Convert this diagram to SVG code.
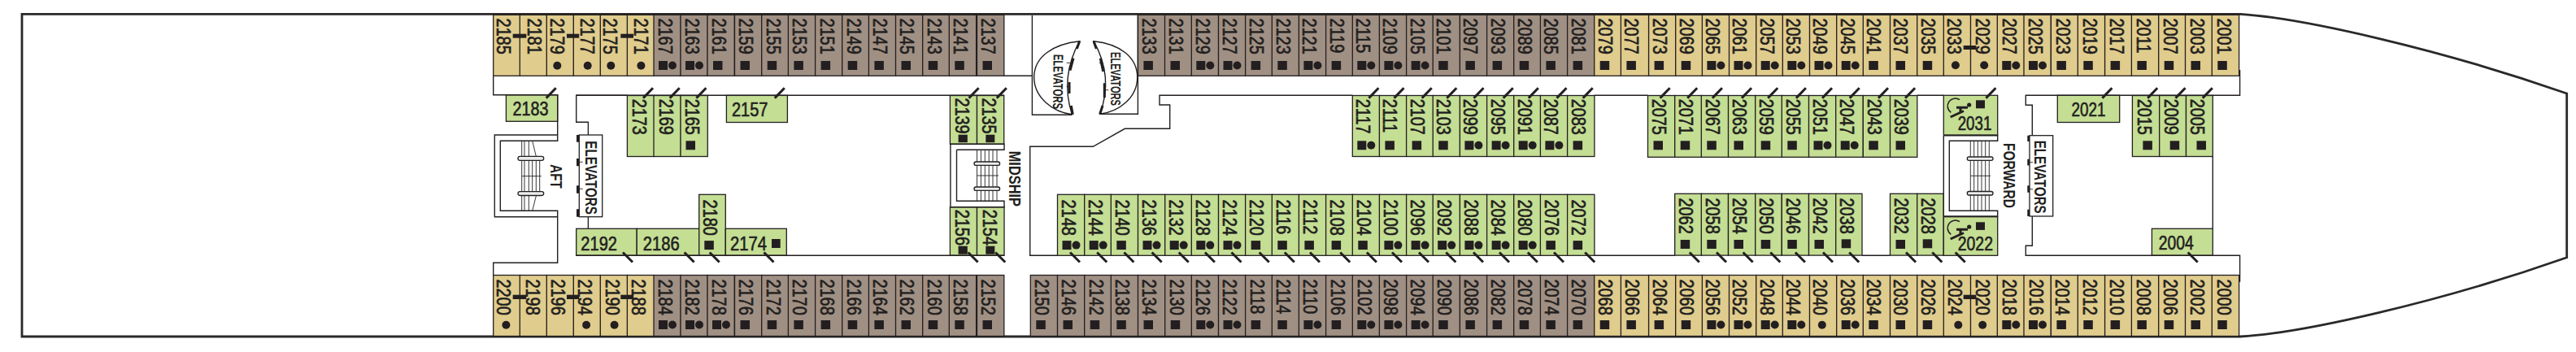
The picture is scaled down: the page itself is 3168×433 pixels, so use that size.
<svg xmlns="http://www.w3.org/2000/svg" width="3168" height="433" viewBox="0 0 3168 433">
<style>
text{font-family:"Liberation Sans",Arial,sans-serif;fill:#231f20}
.v{font-size:24px;stroke:#231f20;stroke-width:.7;transform:rotate(90deg) scale(.83,1)}
.h{font-size:23px;stroke:#231f20;stroke-width:.6}
.b{font-size:21px;font-weight:700}
.t,.r,.g{stroke:#231f20;stroke-width:1.3}
.t{fill:#e0cc8d}.r{fill:#a09084}.g{fill:#c4de94}
.w{fill:none;stroke:#231f20;stroke-width:1.4}
.s{fill:none;stroke:#231f20;stroke-width:.9}
.band{fill:#ececec;stroke:#231f20;stroke-width:1.3}
.m{fill:#231f20}
.d{stroke:#231f20;stroke-width:3;fill:none}
.th{fill:none;stroke:#231f20;stroke-width:3}
</style>
<defs>
<rect id="T" class="t" width="33.3" height="75"/>
<rect id="B" class="r" width="33.3" height="75"/>
<rect id="G" class="g" width="33.3" height="75"/>
<rect id="S" class="m" x="7" width="11.5" height="11"/>
<g id="D"><rect class="m" x="6" width="11" height="11"/><circle class="m" cx="23" cy="5.5" r="5"/></g>
<circle id="O" class="m" cx="13" cy="5.5" r="5"/>
<path id="u" class="d" d="M-12 12.3L0 0"/>
<path id="l" class="d" d="M-12 -12L0 0"/>
<g id="wc"><path class="th" style="stroke-width:1.6" d="M2410 122.7A8.7 8.7 0 1 0 2399.3 138.3"/><path class="th" d="M2406 132.3H2420M2411 132V138"/><path class="th" d="M2398.7 144L2415 136.5"/><circle class="m" cx="2421.7" cy="129" r="2.6"/></g>
</defs>
<rect width="3168" height="433" fill="#fff"/>
<path id="hull" d="M27 17.3H2755C2830 22 3000 60 3156.7 115V316.7C3000 372 2830 410 2755 414H27Z" fill="none" stroke="#2b2829" stroke-width="2.8"/>

<g id="cabins-top" >
<g id="c2185" transform="translate(606.7 18.3)"><use href="#T"/><text class="v" x="5" y="-4">2185</text></g>
<g id="c2181" transform="translate(639.3 18.3)"><use href="#T"/><text class="v" x="5" y="-9.4">2181</text></g>
<g id="c2179" transform="translate(672.3 18.3)"><use href="#T"/><text class="v" x="5" y="-4.4">2179</text><use href="#O" y="56.9"/></g>
<g id="c2177" transform="translate(705.3 18.3)"><use href="#T"/><text class="v" x="5" y="-9">2177</text><use href="#O" x="4.4" y="56.9"/></g>
<g id="c2175" transform="translate(738.3 18.3)"><use href="#T"/><text class="v" x="5" y="-4">2175</text><use href="#O" y="56.9"/></g>
<g id="c2171" transform="translate(771.4 18.3)"><use href="#T"/><text class="v" x="5" y="-8.5">2171</text><use href="#O" x="4" y="56.9"/></g>
<g id="c2167" transform="translate(804 18.3)"><use href="#B"/><text class="v" x="5" y="-6">2167</text><use href="#D" y="56.7"/></g>
<g id="c2163" transform="translate(837 18.3)"><use href="#B"/><text class="v" x="5" y="-6">2163</text><use href="#D" y="56.7"/></g>
<g id="c2161" transform="translate(870 18.3)"><use href="#B"/><text class="v" x="5" y="-6">2161</text><use href="#S" y="56.7"/></g>
<g id="c2159" transform="translate(903.5 18.3)"><use href="#B"/><text class="v" x="5" y="-6">2159</text><use href="#S" y="56.7"/></g>
<g id="c2155" transform="translate(936.7 18.3)"><use href="#B"/><text class="v" x="5" y="-6">2155</text><use href="#S" y="56.7"/></g>
<g id="c2153" transform="translate(969.4 18.3)"><use href="#B"/><text class="v" x="5" y="-6">2153</text><use href="#S" y="56.7"/></g>
<g id="c2151" transform="translate(1002.6 18.3)"><use href="#B"/><text class="v" x="5" y="-6">2151</text><use href="#S" y="56.7"/></g>
<g id="c2149" transform="translate(1035.7 18.3)"><use href="#B"/><text class="v" x="5" y="-6">2149</text><use href="#S" y="56.7"/></g>
<g id="c2147" transform="translate(1068.4 18.3)"><use href="#B"/><text class="v" x="5" y="-6">2147</text><use href="#S" y="56.7"/></g>
<g id="c2145" transform="translate(1101.5 18.3)"><use href="#B"/><text class="v" x="5" y="-6">2145</text><use href="#S" y="56.7"/></g>
<g id="c2143" transform="translate(1134.7 18.3)"><use href="#B"/><text class="v" x="5" y="-6">2143</text><use href="#S" y="56.7"/></g>
<g id="c2141" transform="translate(1167.3 18.3)"><use href="#B"/><text class="v" x="5" y="-6">2141</text><use href="#S" y="56.7"/></g>
<g id="c2137" transform="translate(1201.5 18.3)"><use href="#B"/><text class="v" x="5" y="-6">2137</text><use href="#S" y="56.7"/></g>
<g id="c2133" transform="translate(1399.4 18.3)"><use href="#B"/><text class="v" x="5" y="-5.5">2133</text><use href="#S" y="56.7"/></g>
<g id="c2131" transform="translate(1432.5 18.3)"><use href="#B"/><text class="v" x="5" y="-5.5">2131</text><use href="#S" y="56.7"/></g>
<g id="c2129" transform="translate(1465.3 18.3)"><use href="#B"/><text class="v" x="5" y="-5.5">2129</text><use href="#D" y="56.7"/></g>
<g id="c2127" transform="translate(1498.5 18.3)"><use href="#B"/><text class="v" x="5" y="-5.5">2127</text><use href="#D" y="56.7"/></g>
<g id="c2125" transform="translate(1531.6 18.3)"><use href="#B"/><text class="v" x="5" y="-5.5">2125</text><use href="#S" y="56.7"/></g>
<g id="c2123" transform="translate(1564.3 18.3)"><use href="#B"/><text class="v" x="5" y="-5.5">2123</text><use href="#S" y="56.7"/></g>
<g id="c2121" transform="translate(1597.4 18.3)"><use href="#B"/><text class="v" x="5" y="-5">2121</text><use href="#D" y="56.7"/></g>
<g id="c2119" transform="translate(1630.6 18.3)"><use href="#B"/><text class="v" x="5" y="-5">2119</text><use href="#S" y="56.7"/></g>
<g id="c2115" transform="translate(1663.3 18.3)"><use href="#B"/><text class="v" x="5" y="-5">2115</text><use href="#D" y="56.7"/></g>
<g id="c2109" transform="translate(1696.4 18.3)"><use href="#B"/><text class="v" x="5" y="-5">2109</text><use href="#D" y="56.7"/></g>
<g id="c2105" transform="translate(1729.6 18.3)"><use href="#B"/><text class="v" x="5" y="-5">2105</text><use href="#D" y="56.7"/></g>
<g id="c2101" transform="translate(1762.2 18.3)"><use href="#B"/><text class="v" x="5" y="-5">2101</text><use href="#S" y="56.7"/></g>
<g id="c2097" transform="translate(1795.4 18.3)"><use href="#B"/><text class="v" x="5" y="-5">2097</text><use href="#S" y="56.7"/></g>
<g id="c2093" transform="translate(1828.6 18.3)"><use href="#B"/><text class="v" x="5" y="-5">2093</text><use href="#S" y="56.7"/></g>
<g id="c2089" transform="translate(1861.7 18.3)"><use href="#B"/><text class="v" x="5" y="-5">2089</text><use href="#S" y="56.7"/></g>
<g id="c2085" transform="translate(1894.4 18.3)"><use href="#B"/><text class="v" x="5" y="-5">2085</text><use href="#S" y="56.7"/></g>
<g id="c2081" transform="translate(1927.6 18.3)"><use href="#B"/><text class="v" x="5" y="-5">2081</text><use href="#S" y="56.7"/></g>
<g id="c2079" transform="translate(1960.7 18.3)"><use href="#T"/><text class="v" x="5" y="-5">2079</text><use href="#S" y="56.7"/></g>
<g id="c2077" transform="translate(1993.4 18.3)"><rect class="t" width="34.2" height="75"/><text class="v" x="5" y="-5">2077</text><use href="#S" y="56.7"/></g>
<g id="c2073" transform="translate(2027.6 18.3)"><use href="#T"/><text class="v" x="5" y="-5">2073</text><use href="#S" y="56.7"/></g>
<g id="c2069" transform="translate(2060.7 18.3)"><use href="#T"/><text class="v" x="5" y="-5">2069</text><use href="#S" y="56.7"/></g>
<g id="c2065" transform="translate(2093.4 18.3)"><use href="#T"/><text class="v" x="5" y="-5">2065</text><use href="#D" y="56.7"/></g>
<g id="c2061" transform="translate(2126.5 18.3)"><use href="#T"/><text class="v" x="5" y="-5">2061</text><use href="#D" y="56.7"/></g>
<g id="c2057" transform="translate(2159.7 18.3)"><use href="#T"/><text class="v" x="5" y="-5">2057</text><use href="#D" y="56.7"/></g>
<g id="c2053" transform="translate(2192.3 18.3)"><use href="#T"/><text class="v" x="5" y="-5">2053</text><use href="#D" y="56.7"/></g>
<g id="c2049" transform="translate(2225.5 18.3)"><use href="#T"/><text class="v" x="5" y="-5">2049</text><use href="#D" y="56.7"/></g>
<g id="c2045" transform="translate(2258.7 18.3)"><use href="#T"/><text class="v" x="5" y="-5">2045</text><use href="#D" y="56.7"/></g>
<g id="c2041" transform="translate(2291.3 18.3)"><use href="#T"/><text class="v" x="5" y="-5">2041</text><use href="#S" y="56.7"/></g>
<g id="c2037" transform="translate(2324.5 18.3)"><use href="#T"/><text class="v" x="5" y="-5">2037</text><use href="#S" y="56.7"/></g>
<g id="c2035" transform="translate(2357.7 18.3)"><use href="#T"/><text class="v" x="5" y="-5">2035</text><use href="#S" y="56.7"/></g>
<g id="c2033" transform="translate(2390.3 18.3)"><use href="#T"/><text class="v" x="5" y="-5">2033</text><use href="#O" x="1.6" y="56.5"/></g>
<g id="c2029" transform="translate(2423.5 18.3)"><use href="#T"/><text class="v" x="5" y="-6.8">2029</text><use href="#O" x="3.7" y="56.5"/></g>
<g id="c2027" transform="translate(2456.3 18.3)"><use href="#T"/><text class="v" x="5" y="-6.5">2027</text><use href="#D" y="56.7"/></g>
<g id="c2025" transform="translate(2489 18.3)"><use href="#T"/><text class="v" x="5" y="-6.5">2025</text><use href="#D" y="56.7"/></g>
<g id="c2023" transform="translate(2522.4 18.3)"><use href="#T"/><text class="v" x="5" y="-6.5">2023</text><use href="#S" y="56.7"/></g>
<g id="c2019" transform="translate(2555.3 18.3)"><use href="#T"/><text class="v" x="5" y="-6.5">2019</text><use href="#S" y="56.7"/></g>
<g id="c2017" transform="translate(2588.6 18.3)"><use href="#T"/><text class="v" x="5" y="-6.5">2017</text><use href="#S" y="56.7"/></g>
<g id="c2011" transform="translate(2621.4 18.3)"><use href="#T"/><text class="v" x="5" y="-6.5">2011</text><use href="#S" y="56.7"/></g>
<g id="c2007" transform="translate(2654.7 18.3)"><use href="#T"/><text class="v" x="5" y="-6.5">2007</text><use href="#S" y="56.7"/></g>
<g id="c2003" transform="translate(2687.5 18.3)"><use href="#T"/><text class="v" x="5" y="-6.5">2003</text><use href="#S" y="56.7"/></g>
<g id="c2001" transform="translate(2720.3 18.3)"><use href="#T"/><text class="v" x="5" y="-6.5">2001</text><use href="#S" y="56.7"/></g>
</g>

<g id="cabins-bottom">
<g id="c2200" transform="translate(606.7 338.5)"><use href="#T"/><text class="v" x="6" y="-4">2200</text><use href="#O" x="2.7" y="55.7"/></g>
<g id="c2198" transform="translate(639.3 338.5)"><use href="#T"/><text class="v" x="6" y="-7.4">2198</text></g>
<g id="c2196" transform="translate(672.3 338.5)"><use href="#T"/><text class="v" x="6" y="-6">2196</text></g>
<g id="c2194" transform="translate(705.3 338.5)"><use href="#T"/><text class="v" x="6" y="-5.6">2194</text><use href="#O" x="2.8" y="55.7"/></g>
<g id="c2190" transform="translate(738.3 338.5)"><use href="#T"/><text class="v" x="6" y="-6.6">2190</text><use href="#O" x="4.3" y="55.7"/></g>
<g id="c2188" transform="translate(771.4 338.5)"><use href="#T"/><text class="v" x="6" y="-6">2188</text></g>
<g id="c2184" transform="translate(804 338.5)"><use href="#B"/><text class="v" x="6" y="-6">2184</text><use href="#D" y="55.5"/></g>
<g id="c2182" transform="translate(837 338.5)"><use href="#B"/><text class="v" x="6" y="-6">2182</text><use href="#D" y="55.5"/></g>
<g id="c2178" transform="translate(870 338.5)"><use href="#B"/><text class="v" x="6" y="-6">2178</text><use href="#D" y="55.5"/></g>
<g id="c2176" transform="translate(903.5 338.5)"><use href="#B"/><text class="v" x="6" y="-6">2176</text><use href="#S" y="55.5"/></g>
<g id="c2172" transform="translate(936.7 338.5)"><use href="#B"/><text class="v" x="6" y="-6">2172</text><use href="#S" y="55.5"/></g>
<g id="c2170" transform="translate(969.4 338.5)"><use href="#B"/><text class="v" x="6" y="-6">2170</text><use href="#S" y="55.5"/></g>
<g id="c2168" transform="translate(1002.6 338.5)"><use href="#B"/><text class="v" x="6" y="-6">2168</text><use href="#S" y="55.5"/></g>
<g id="c2166" transform="translate(1035.7 338.5)"><use href="#B"/><text class="v" x="6" y="-6">2166</text><use href="#S" y="55.5"/></g>
<g id="c2164" transform="translate(1068.4 338.5)"><use href="#B"/><text class="v" x="6" y="-6">2164</text><use href="#S" y="55.5"/></g>
<g id="c2162" transform="translate(1101.5 338.5)"><use href="#B"/><text class="v" x="6" y="-6">2162</text><use href="#S" y="55.5"/></g>
<g id="c2160" transform="translate(1134.7 338.5)"><use href="#B"/><text class="v" x="6" y="-6">2160</text><use href="#S" y="55.5"/></g>
<g id="c2158" transform="translate(1167.3 338.5)"><use href="#B"/><text class="v" x="6" y="-6">2158</text><use href="#S" y="55.5"/></g>
<g id="c2152" transform="translate(1201.5 338.5)"><use href="#B"/><text class="v" x="6" y="-6">2152</text><use href="#S" y="55.5"/></g>
<g id="c2150" transform="translate(1267.3 338.5)"><use href="#B"/><text class="v" x="6" y="-6">2150</text><use href="#S" y="55.5"/></g>
<g id="c2146" transform="translate(1300.5 338.5)"><use href="#B"/><text class="v" x="6" y="-6">2146</text><use href="#S" y="55.5"/></g>
<g id="c2142" transform="translate(1333.7 338.5)"><use href="#B"/><text class="v" x="6" y="-6">2142</text><use href="#S" y="55.5"/></g>
<g id="c2138" transform="translate(1366.3 338.5)"><use href="#B"/><text class="v" x="6" y="-6">2138</text><use href="#S" y="55.5"/></g>
<g id="c2134" transform="translate(1399.5 338.5)"><use href="#B"/><text class="v" x="6" y="-6">2134</text><use href="#S" y="55.5"/></g>
<g id="c2130" transform="translate(1432.7 338.5)"><use href="#B"/><text class="v" x="6" y="-6">2130</text><use href="#S" y="55.5"/></g>
<g id="c2126" transform="translate(1465.3 338.5)"><use href="#B"/><text class="v" x="6" y="-6">2126</text><use href="#D" y="55.5"/></g>
<g id="c2122" transform="translate(1498.5 338.5)"><use href="#B"/><text class="v" x="6" y="-6">2122</text><use href="#D" y="55.5"/></g>
<g id="c2118" transform="translate(1531.6 338.5)"><use href="#B"/><text class="v" x="6" y="-6">2118</text><use href="#S" y="55.5"/></g>
<g id="c2114" transform="translate(1564.3 338.5)"><use href="#B"/><text class="v" x="6" y="-6">2114</text><use href="#S" y="55.5"/></g>
<g id="c2110" transform="translate(1597.4 338.5)"><use href="#B"/><text class="v" x="6" y="-5.5">2110</text><use href="#D" y="55.5"/></g>
<g id="c2106" transform="translate(1630.6 338.5)"><use href="#B"/><text class="v" x="6" y="-6">2106</text><use href="#S" y="55.5"/></g>
<g id="c2102" transform="translate(1663.3 338.5)"><use href="#B"/><text class="v" x="6" y="-6.5">2102</text><use href="#D" y="55.5"/></g>
<g id="c2098" transform="translate(1696.4 338.5)"><use href="#B"/><text class="v" x="6" y="-5.5">2098</text><use href="#D" y="55.5"/></g>
<g id="c2094" transform="translate(1729.6 338.5)"><use href="#B"/><text class="v" x="6" y="-5.5">2094</text><use href="#D" y="55.5"/></g>
<g id="c2090" transform="translate(1762.2 338.5)"><use href="#B"/><text class="v" x="6" y="-5.5">2090</text><use href="#S" y="55.5"/></g>
<g id="c2086" transform="translate(1795.4 338.5)"><use href="#B"/><text class="v" x="6" y="-5.5">2086</text><use href="#S" y="55.5"/></g>
<g id="c2082" transform="translate(1828.6 338.5)"><use href="#B"/><text class="v" x="6" y="-5.5">2082</text><use href="#S" y="55.5"/></g>
<g id="c2078" transform="translate(1861.7 338.5)"><use href="#B"/><text class="v" x="6" y="-5.5">2078</text><use href="#S" y="55.5"/></g>
<g id="c2074" transform="translate(1894.4 338.5)"><use href="#B"/><text class="v" x="6" y="-5.5">2074</text><use href="#S" y="55.5"/></g>
<g id="c2070" transform="translate(1927.6 338.5)"><use href="#B"/><text class="v" x="6" y="-5.5">2070</text><use href="#S" y="55.5"/></g>
<g id="c2068" transform="translate(1960.7 338.5)"><use href="#T"/><text class="v" x="6" y="-5.5">2068</text><use href="#S" y="55.5"/></g>
<g id="c2066" transform="translate(1993.4 338.5)"><rect class="t" width="34.2" height="75"/><text class="v" x="6" y="-5.5">2066</text><use href="#S" y="55.5"/></g>
<g id="c2064" transform="translate(2027.6 338.5)"><use href="#T"/><text class="v" x="6" y="-5">2064</text><use href="#S" y="55.5"/></g>
<g id="c2060" transform="translate(2060.7 338.5)"><use href="#T"/><text class="v" x="6" y="-5">2060</text><use href="#S" y="55.5"/></g>
<g id="c2056" transform="translate(2093.4 338.5)"><use href="#T"/><text class="v" x="6" y="-5">2056</text><use href="#D" y="55.5"/></g>
<g id="c2052" transform="translate(2126.5 338.5)"><use href="#T"/><text class="v" x="6" y="-5">2052</text><use href="#D" y="55.5"/></g>
<g id="c2048" transform="translate(2159.7 338.5)"><use href="#T"/><text class="v" x="6" y="-5">2048</text><use href="#D" y="55.5"/></g>
<g id="c2044" transform="translate(2192.3 338.5)"><use href="#T"/><text class="v" x="6" y="-5">2044</text><use href="#D" y="55.5"/></g>
<g id="c2040" transform="translate(2225.5 338.5)"><use href="#T"/><text class="v" x="6" y="-5">2040</text><use href="#O" x="2.3" y="55.7"/></g>
<g id="c2036" transform="translate(2258.7 338.5)"><use href="#T"/><text class="v" x="6" y="-5">2036</text><use href="#D" y="55.5"/></g>
<g id="c2034" transform="translate(2291.3 338.5)"><use href="#T"/><text class="v" x="6" y="-5">2034</text><use href="#S" y="55.5"/></g>
<g id="c2030" transform="translate(2324.5 338.5)"><use href="#T"/><text class="v" x="6" y="-5">2030</text><use href="#S" y="55.5"/></g>
<g id="c2026" transform="translate(2357.7 338.5)"><use href="#T"/><text class="v" x="6" y="-5">2026</text><use href="#S" y="55.5"/></g>
<g id="c2024" transform="translate(2390.3 338.5)"><use href="#T"/><text class="v" x="6" y="-5.5">2024</text><use href="#O" x="5" y="55.7"/></g>
<g id="c2020" transform="translate(2423.5 338.5)"><use href="#T"/><text class="v" x="6" y="-6.8">2020</text><use href="#O" x="1.7" y="55.7"/></g>
<g id="c2018" transform="translate(2456.3 338.5)"><use href="#T"/><text class="v" x="6" y="-6.5">2018</text><use href="#D" y="55.5"/></g>
<g id="c2016" transform="translate(2489 338.5)"><use href="#T"/><text class="v" x="6" y="-7">2016</text><use href="#D" y="55.5"/></g>
<g id="c2014" transform="translate(2522.4 338.5)"><use href="#T"/><text class="v" x="6" y="-6">2014</text><use href="#S" y="55.5"/></g>
<g id="c2012" transform="translate(2555.3 338.5)"><use href="#T"/><text class="v" x="6" y="-6.5">2012</text><use href="#S" y="55.5"/></g>
<g id="c2010" transform="translate(2588.6 338.5)"><use href="#T"/><text class="v" x="6" y="-6.5">2010</text><use href="#S" y="55.5"/></g>
<g id="c2008" transform="translate(2621.4 338.5)"><use href="#T"/><text class="v" x="6" y="-6.5">2008</text><use href="#S" y="55.5"/></g>
<g id="c2006" transform="translate(2654.7 338.5)"><use href="#T"/><text class="v" x="6" y="-6.5">2006</text><use href="#S" y="55.5"/></g>
<g id="c2002" transform="translate(2687.5 338.5)"><use href="#T"/><text class="v" x="6" y="-6.5">2002</text><use href="#S" y="55.5"/></g>
<g id="c2000" transform="translate(2720.3 338.5)"><use href="#T"/><text class="v" x="6" y="-6.5">2000</text><use href="#S" y="55.5"/></g>
</g>

<g id="cabins-inner">
<g id="c2183"><rect class="g" x="622.4" y="116.7" width="63.3" height="32.6"/><text class="h" x="630.6" y="141.7" textLength="44" lengthAdjust="spacingAndGlyphs">2183</text></g>
<g id="c2173" transform="translate(771.4 117.5)"><use href="#G"/><text class="v" x="5" y="-6.5">2173</text></g>
<g id="c2169" transform="translate(804 117.5)"><use href="#G"/><text class="v" x="5" y="-7">2169</text></g>
<g id="c2165" transform="translate(837 117.5)"><use href="#G"/><text class="v" x="5" y="-6.5">2165</text><use href="#S" x="-.5" y="55.8"/></g>
<g id="c2157"><rect class="g" x="893.4" y="117.4" width="75" height="33.1"/><text class="h" x="900" y="142.7" textLength="44.4" lengthAdjust="spacingAndGlyphs">2157</text></g>
<g id="c2139" transform="translate(1168.4 117.5)"><rect class="g" width="33.1" height="59.8"/><text class="v" x="3.5" y="-6.5">2139</text><rect class="m" x="10.2" y="48.2" width="11.2" height="9.5"/></g>
<g id="c2135" transform="translate(1201.5 117.5)"><rect class="g" width="33.2" height="59.8"/><text class="v" x="3.5" y="-6.5">2135</text><rect class="m" x="10.8" y="48.2" width="11" height="9.5"/></g>
<g id="c2192"><rect class="g" x="708.7" y="281.3" width="74.5" height="33"/><text class="h" x="714.3" y="308.3" textLength="44.7" lengthAdjust="spacingAndGlyphs">2192</text></g>
<g id="c2186"><rect class="g" x="783.2" y="281.3" width="76.5" height="33"/><text class="h" x="790.8" y="308.3" textLength="44.9" lengthAdjust="spacingAndGlyphs">2186</text></g>
<g id="c2180" transform="translate(859.7 239.3)"><rect class="g" width="32.6" height="75"/><text class="v" x="7.5" y="-5">2180</text><use href="#S" x="-.4" y="56.8"/></g>
<g id="c2174"><rect class="g" x="892.3" y="281.3" width="75" height="33"/><text class="h" x="898" y="307.5" textLength="45" lengthAdjust="spacingAndGlyphs">2174</text><rect class="m" x="949" y="294" width="10.7" height="11"/></g>
<g id="c2156" transform="translate(1168.4 254.7)"><rect class="g" width="33.1" height="59.6"/><text class="v" x="3.6" y="-6.5">2156</text><rect class="m" x="10.2" y="48" width="11.2" height="10"/></g>
<g id="c2154" transform="translate(1201.5 254.7)"><rect class="g" width="33.5" height="59.6"/><text class="v" x="3.6" y="-8">2154</text><rect class="m" x="10.8" y="48" width="11" height="10"/></g>

<g id="c2148" transform="translate(1300.5 239.3)"><use href="#G"/><text class="v" x="7.5" y="-5.5">2148</text><use href="#D" y="56.8"/></g>
<g id="c2144" transform="translate(1333.7 239.3)"><use href="#G"/><text class="v" x="7.5" y="-5.5">2144</text><use href="#D" y="56.8"/></g>
<g id="c2140" transform="translate(1366.3 239.3)"><use href="#G"/><text class="v" x="7.5" y="-5.5">2140</text><use href="#S" y="56.8"/></g>
<g id="c2136" transform="translate(1399.5 239.3)"><use href="#G"/><text class="v" x="7.5" y="-5.5">2136</text><use href="#D" y="56.8"/></g>
<g id="c2132" transform="translate(1432.7 239.3)"><use href="#G"/><text class="v" x="7.5" y="-5.5">2132</text><use href="#D" y="56.8"/></g>
<g id="c2128" transform="translate(1465.3 239.3)"><use href="#G"/><text class="v" x="7.5" y="-5.5">2128</text><use href="#D" y="56.8"/></g>
<g id="c2124" transform="translate(1498.5 239.3)"><use href="#G"/><text class="v" x="7.5" y="-5.5">2124</text><use href="#D" y="56.8"/></g>
<g id="c2120" transform="translate(1531.6 239.3)"><use href="#G"/><text class="v" x="7.5" y="-5.5">2120</text><use href="#S" y="56.8"/></g>
<g id="c2116" transform="translate(1564.3 239.3)"><use href="#G"/><text class="v" x="7.5" y="-5.5">2116</text><use href="#S" y="56.8"/></g>
<g id="c2112" transform="translate(1597.4 239.3)"><use href="#G"/><text class="v" x="7.5" y="-5.5">2112</text><use href="#S" y="56.8"/></g>
<g id="c2108" transform="translate(1630.6 239.3)"><use href="#G"/><text class="v" x="7.5" y="-5.5">2108</text><use href="#S" y="56.8"/></g>
<g id="c2104" transform="translate(1663.3 239.3)"><use href="#G"/><text class="v" x="7.5" y="-5.5">2104</text><use href="#S" y="56.8"/></g>
<g id="c2100" transform="translate(1696.4 239.3)"><use href="#G"/><text class="v" x="7.5" y="-5.5">2100</text><use href="#D" y="56.8"/></g>
<g id="c2096" transform="translate(1729.6 239.3)"><use href="#G"/><text class="v" x="7.5" y="-5.5">2096</text><use href="#D" y="56.8"/></g>
<g id="c2092" transform="translate(1762.2 239.3)"><use href="#G"/><text class="v" x="7.5" y="-5.5">2092</text><use href="#D" y="56.8"/></g>
<g id="c2088" transform="translate(1795.4 239.3)"><use href="#G"/><text class="v" x="7.5" y="-5.5">2088</text><use href="#D" y="56.8"/></g>
<g id="c2084" transform="translate(1828.6 239.3)"><use href="#G"/><text class="v" x="7.5" y="-5.5">2084</text><use href="#D" y="56.8"/></g>
<g id="c2080" transform="translate(1861.7 239.3)"><use href="#G"/><text class="v" x="7.5" y="-5.5">2080</text><use href="#D" y="56.8"/></g>
<g id="c2076" transform="translate(1894.4 239.3)"><use href="#G"/><text class="v" x="7.5" y="-5.5">2076</text><use href="#S" y="56.8"/></g>
<g id="c2072" transform="translate(1927.6 239.3)"><use href="#G"/><text class="v" x="7.5" y="-5.5">2072</text><use href="#S" y="56.8"/></g>

<g id="c2117" transform="translate(1663.3 117.5)"><use href="#G"/><text class="v" x="5" y="-5">2117</text><use href="#D" y="55.8"/></g>
<g id="c2111" transform="translate(1696.4 117.5)"><use href="#G"/><text class="v" x="5" y="-5">2111</text><use href="#S" y="55.8"/></g>
<g id="c2107" transform="translate(1729.6 117.5)"><use href="#G"/><text class="v" x="5" y="-5">2107</text><use href="#S" y="55.8"/></g>
<g id="c2103" transform="translate(1762.2 117.5)"><use href="#G"/><text class="v" x="5" y="-5">2103</text><use href="#S" y="55.8"/></g>
<g id="c2099" transform="translate(1795.4 117.5)"><use href="#G"/><text class="v" x="5" y="-5">2099</text><use href="#D" y="55.8"/></g>
<g id="c2095" transform="translate(1828.6 117.5)"><use href="#G"/><text class="v" x="5" y="-5">2095</text><use href="#D" y="55.8"/></g>
<g id="c2091" transform="translate(1861.7 117.5)"><use href="#G"/><text class="v" x="5" y="-5">2091</text><use href="#D" y="55.8"/></g>
<g id="c2087" transform="translate(1894.4 117.5)"><use href="#G"/><text class="v" x="5" y="-5">2087</text><use href="#D" y="55.8"/></g>
<g id="c2083" transform="translate(1927.6 117.5)"><use href="#G"/><text class="v" x="5" y="-5">2083</text><use href="#S" y="55.8"/></g>

<g id="c2075" transform="translate(2026.5 117.5)"><rect class="g" width="33.3" height="75.8"/><text class="v" x="5" y="-6">2075</text><use href="#S" y="55.8"/></g>
<g id="c2071" transform="translate(2059.7 117.5)"><rect class="g" width="33.3" height="75.8"/><text class="v" x="5" y="-5.6">2071</text><use href="#S" y="55.8"/></g>
<g id="c2067" transform="translate(2092.3 117.5)"><rect class="g" width="33.3" height="75.8"/><text class="v" x="5" y="-5.6">2067</text><use href="#S" y="55.8"/></g>
<g id="c2063" transform="translate(2125.5 117.5)"><rect class="g" width="33.3" height="75.8"/><text class="v" x="5" y="-5.6">2063</text><use href="#S" y="55.8"/></g>
<g id="c2059" transform="translate(2158.7 117.5)"><rect class="g" width="33.3" height="75.8"/><text class="v" x="5" y="-5.6">2059</text><use href="#S" y="55.8"/></g>
<g id="c2055" transform="translate(2191.3 117.5)"><rect class="g" width="33.3" height="75.8"/><text class="v" x="5" y="-5.6">2055</text><use href="#S" y="55.8"/></g>
<g id="c2051" transform="translate(2224.5 117.5)"><rect class="g" width="33.3" height="75.8"/><text class="v" x="5" y="-5.6">2051</text><use href="#D" y="55.8"/></g>
<g id="c2047" transform="translate(2257.7 117.5)"><rect class="g" width="33.6" height="75.8"/><text class="v" x="5" y="-5.6">2047</text><use href="#D" y="55.8"/></g>
<g id="c2043" transform="translate(2291.3 117.5)"><rect class="g" width="33.3" height="75.8"/><text class="v" x="5" y="-5.6">2043</text><use href="#S" y="55.8"/></g>
<g id="c2039" transform="translate(2324.5 117.5)"><rect class="g" width="33.3" height="75.8"/><text class="v" x="5" y="-5.6">2039</text><use href="#S" y="55.8"/></g>

<g id="c2062" transform="translate(2059.7 238.3)"><rect class="g" width="33" height="75.8"/><text class="v" x="6.2" y="-5.6">2062</text><use href="#S" y="56.7"/></g>
<g id="c2058" transform="translate(2092.3 238.3)"><rect class="g" width="33.2" height="75.8"/><text class="v" x="6.2" y="-5.6">2058</text><use href="#S" y="56.7"/></g>
<g id="c2054" transform="translate(2125.5 238.3)"><rect class="g" width="33.2" height="75.8"/><text class="v" x="6.2" y="-5.6">2054</text><use href="#S" y="56.7"/></g>
<g id="c2050" transform="translate(2158.7 238.3)"><rect class="g" width="32.6" height="75.8"/><text class="v" x="6.2" y="-5.6">2050</text><use href="#S" y="56.7"/></g>
<g id="c2046" transform="translate(2191.3 238.3)"><rect class="g" width="33.2" height="75.8"/><text class="v" x="6.2" y="-5.6">2046</text><use href="#S" y="56.7"/></g>
<g id="c2042" transform="translate(2224.5 238.3)"><rect class="g" width="33.2" height="75.8"/><text class="v" x="6.2" y="-5.6">2042</text><use href="#S" y="56.7"/></g>
<g id="c2038" transform="translate(2257.7 238.3)"><rect class="g" width="32.3" height="75.8"/><text class="v" x="6.2" y="-5.6">2038</text><use href="#S" y="56"/></g>
<g id="c2032" transform="translate(2324.5 238.3)"><rect class="g" width="33.2" height="75.8"/><text class="v" x="6.2" y="-6">2032</text><use href="#S" y="56.7"/></g>
<g id="c2028" transform="translate(2357.7 238.3)"><rect class="g" width="32.6" height="75.8"/><text class="v" x="6.2" y="-5">2028</text><use href="#S" y="56"/></g>

<g id="c2031"><rect class="g" x="2390.3" y="117.3" width="66.4" height="48.7"/><use href="#wc"/><rect class="m" x="2430" y="123.3" width="11" height="10"/><text class="h" x="2407.7" y="160" textLength="41.6" lengthAdjust="spacingAndGlyphs">2031</text></g>
<g id="c2022"><rect class="g" x="2390.3" y="266.7" width="66.4" height="47.6"/><use href="#wc" y="150"/><rect class="m" x="2430" y="273.3" width="11" height="9.6"/><text class="h" x="2407.7" y="308.3" textLength="43.3" lengthAdjust="spacingAndGlyphs">2022</text></g>
<g id="c2021"><rect class="g" x="2530.3" y="117.3" width="76.4" height="33.2"/><text class="h" x="2547.4" y="142.7" textLength="42.1" lengthAdjust="spacingAndGlyphs">2021</text></g>
<g id="c2015" transform="translate(2622.4 117.5)"><use href="#G"/><text class="v" x="5" y="-6.4">2015</text><use href="#S" x="6" y="55.8"/></g>
<g id="c2009" transform="translate(2655.7 117.5)"><rect class="g" width="32.8" height="75"/><text class="v" x="5" y="-6.4">2009</text><use href="#S" x="6" y="55.8"/></g>
<g id="c2005" transform="translate(2688.5 117.5)"><rect class="g" width="32.8" height="75"/><text class="v" x="5" y="-5.4">2005</text><use href="#S" x="6" y="55.8"/></g>
<g id="c2004"><rect class="g" x="2646.4" y="281.3" width="74.9" height="33"/><text class="h" x="2654.7" y="307.3" textLength="43.1" lengthAdjust="spacingAndGlyphs">2004</text></g>
</g>

<g id="walls">
<path class="w" d="M606.7 93.3V116.7H685.7V173.3H615.3V259.3H685.7V323.3H606.7V338.5M685.7 166H608.3V266.7H685.7"/>
<path class="w" d="M771.4 117.3H708.7V150.3H723.4V166M723.4 266.7V281.3"/>
<path class="w" d="M708.7 117.3H1235M708.7 314.3H1235M1168.9 177.3V254.7M1176.5 184.3V247.3H1235V254.7H1168.9M1176.5 184.3H1235V177.3H1168.9"/>
<path class="w" d="M1235 93.3H1269.4M1269.4 19V141.3H1318.3M1399.4 19V140.3H1352.7"/>
<path class="w" d="M1663.3 117.3H1426V129H1438.7V158.3H1383.3L1344.3 180.3H1266.7V314.3H1300.5"/>
<path class="w" d="M1960.7 117.3H2026.5M2357.7 117.3H2390.3M1960.7 314.3H2059.7M2290 314.3H2324.5"/>
<path class="w" d="M2390.3 166.7V266M2390.3 166.7H2456.7V173.3H2397.3V259.3H2456.7V266H2390.3"/>
<path class="w" d="M2754.6 86V117.3H2491.3V129.3H2499.3V166.7M2499.3 266V302.3H2491.3V314.3H2754.6V346.7M2721.3 192.5V281.3"/>
</g>

<g id="elevators-midship">
<path class="w" d="M1327.7 50.7C1295 54 1271.7 70 1271.7 95C1271.7 120 1295 138 1318.3 140.7Q1303.6 94.3 1327.7 50.7Z"/>
<path class="w" d="M1345 50.7C1377 54 1398.7 70 1398.7 95C1398.7 120 1377 137 1352.7 140.3Q1369.8 94.5 1345 50.7Z"/>
<path class="th" d="M1327.7 50.7L1324.3 60M1320 71.7L1316 86.7M1315 101V115M1317.3 130L1319.3 140.7M1345 50.7L1348.3 60M1353.3 71.7L1356.7 88M1358.3 102.3V120M1356 130L1352.7 140.3"/>
<path class="s" d="M1311.7 77.3H1316M1311.7 106.7H1315M1351.7 77.3H1356.7M1359.3 110.7H1363.3"/>
<text class="b" transform="translate(1295.7 66.7) rotate(90.6)" style="font-size:17px" textLength="67.3" lengthAdjust="spacingAndGlyphs">ELEVATORS</text>
<text class="b" transform="translate(1365.7 64) rotate(90)" style="font-size:17px" textLength="66" lengthAdjust="spacingAndGlyphs">ELEVATORS</text>
</g>

<g id="stairs-aft">
<path class="s" d="M641.7 173.3V259.3M645 173.3V259.3M650.3 173.3V259.3M654.7 173.3L659.3 192.3M659.3 241L654.7 259.3M654.7 197V236M659.3 197V236M663.7 197V236M641.7 216.7H665.7"/>
<rect class="band" x="637" y="192.4" width="31.7" height="5" rx="2.4"/>
<rect class="band" x="637" y="235.7" width="31.7" height="4.8" rx="2.4"/>
<text class="b" transform="translate(677.3 202.3) rotate(90)" textLength="29.4" lengthAdjust="spacingAndGlyphs">AFT</text>
</g>
<g id="elevators-aft">
<rect x="712.3" y="166" width="28.4" height="100.7" fill="#fff" stroke="#231f20" stroke-width="1.3"/>
<path class="m" d="M709 166h3.3v8.7h-3.3zM709 195h3.3v9.3h-3.3zM709 228.3h3.3v9.4h-3.3zM709 257.3h3.3v9.4h-3.3z"/>
<path class="s" d="M712.3 199.3H716.7M712.3 232.3H716.7"/>
<text class="b" transform="translate(720.3 173.3) rotate(90)" textLength="90.7" lengthAdjust="spacingAndGlyphs">ELEVATORS</text>
</g>
<g id="stairs-midship">
<path class="s" d="M1201.5 184.3V247.3M1206.4 184.3V247.3M1211.3 184.3V247.3M1216.2 184.3V247.3M1221 184.3V247.3M1226 184.3V247.3M1201.5 216H1228"/>
<rect class="band" x="1198" y="199" width="31.6" height="4.4" rx="2.2"/>
<rect class="band" x="1198" y="230" width="31.6" height="4.4" rx="2.2"/>
<text class="b" transform="translate(1240.8 185.7) rotate(90)" textLength="68.3" lengthAdjust="spacingAndGlyphs">MIDSHIP</text>
</g>
<g id="stairs-forward">
<path class="s" d="M2423.3 173.3V259.3M2427.7 173.3V259.3M2432.3 173.3V259.3M2437 173.3V259.3M2441.7 173.3V259.3M2446.3 173.3V259.3M2423.3 216.3H2448"/>
<rect class="band" x="2419.3" y="193" width="31.7" height="4.3" rx="2.1"/>
<rect class="band" x="2419.3" y="235.5" width="31.7" height="4.5" rx="2.2"/>
<text class="b" transform="translate(2464 176) rotate(90)" textLength="80" lengthAdjust="spacingAndGlyphs">FORWARD</text>
</g>
<g id="elevators-forward">
<rect x="2496" y="166.7" width="28.7" height="99.3" fill="#fff" stroke="#231f20" stroke-width="1.3"/>
<path class="m" d="M2493.3 166.7h2.7v7.3h-2.7zM2493.3 195.7h2.7v7.7h-2.7zM2493.3 228.3h2.7v8.4h-2.7zM2493.3 257.7h2.7v8.3h-2.7z"/>
<path class="s" d="M2496 199.7H2500M2496 232.7H2500"/>
<text class="b" transform="translate(2502.3 172.7) rotate(90)" textLength="90" lengthAdjust="spacingAndGlyphs">ELEVATORS</text>
</g>

<g id="connectors">
<g id="doors-upper">
<use href="#u" x="683.7" y="108.3"/><use href="#u" x="803" y="108.3"/><use href="#u" x="835.7" y="108.3"/><use href="#u" x="868.4" y="108.3"/><use href="#u" x="964.8" y="108.3"/><use href="#u" x="1203.6" y="108.3"/><use href="#u" x="1237.8" y="108.3"/>
<use href="#u" x="1695.4" y="108.3"/><use href="#u" x="1726.5" y="108.3"/><use href="#u" x="1760.7" y="108.3"/><use href="#u" x="1791.3" y="108.3"/><use href="#u" x="1824.5" y="108.3"/><use href="#u" x="1860.7" y="108.3"/><use href="#u" x="1891.8" y="108.3"/><use href="#u" x="1926.5" y="108.3"/><use href="#u" x="1958.7" y="108.3"/>
<use href="#u" x="2053.6" y="108.3"/><use href="#u" x="2087.2" y="108.3"/><use href="#u" x="2117.9" y="108.3"/><use href="#u" x="2154" y="108.3"/><use href="#u" x="2186.2" y="108.3"/><use href="#u" x="2220.9" y="108.3"/><use href="#u" x="2253" y="108.3"/><use href="#u" x="2286.7" y="108.3"/><use href="#u" x="2322" y="108.3"/><use href="#u" x="2355.1" y="108.3"/>
<use href="#u" x="2454.4" y="108.3"/><use href="#u" x="2597.4" y="108.3"/><use href="#u" x="2653.2" y="108.3"/><use href="#u" x="2687.5" y="108.3"/><use href="#u" x="2720.8" y="108.3"/>
</g>
<g id="doors-lower">
<use href="#l" x="778" y="322.5"/><use href="#l" x="853.6" y="322.5"/><use href="#l" x="884.7" y="322.5"/><use href="#l" x="951.5" y="322.5"/><use href="#l" x="1202.6" y="322.5"/><use href="#l" x="1236.2" y="322.5"/>
<use href="#l" x="1328" y="322.5"/><use href="#l" x="1361.2" y="322.5"/><use href="#l" x="1394.4" y="322.5"/><use href="#l" x="1428.6" y="322.5"/><use href="#l" x="1461.7" y="322.5"/><use href="#l" x="1493.9" y="322.5"/><use href="#l" x="1526.5" y="322.5"/><use href="#l" x="1560.7" y="322.5"/><use href="#l" x="1591.8" y="322.5"/>
<use href="#l" x="1623" y="322.5"/><use href="#l" x="1660.2" y="322.5"/><use href="#l" x="1692.9" y="322.5"/><use href="#l" x="1724" y="322.5"/><use href="#l" x="1757" y="322.5"/><use href="#l" x="1790.3" y="322.5"/><use href="#l" x="1824" y="322.5"/><use href="#l" x="1856" y="322.5"/><use href="#l" x="1890.8" y="322.5"/><use href="#l" x="1923" y="322.5"/><use href="#l" x="1961.2" y="322.5"/>
<use href="#l" x="2089.8" y="322.5"/><use href="#l" x="2123" y="322.5"/><use href="#l" x="2155.6" y="322.5"/><use href="#l" x="2189.3" y="322.5"/><use href="#l" x="2219.9" y="322.5"/><use href="#l" x="2254" y="322.5"/><use href="#l" x="2286.2" y="322.5"/>
<use href="#l" x="2356" y="322.5"/><use href="#l" x="2388.3" y="322.5"/><use href="#l" x="2416.7" y="322.5"/><use href="#l" x="2702.7" y="322.5"/>
</g>
<g id="adjoining" class="m">
<rect x="630.7" y="41.7" width="16.6" height="5"/><rect x="697" y="41.7" width="15.2" height="5"/><rect x="763.3" y="41.7" width="15.7" height="5"/>
<rect x="630.7" y="362.7" width="16.6" height="5.3"/><rect x="697" y="362.7" width="15.2" height="5.3"/><rect x="763.3" y="362.7" width="15.7" height="5.3"/>
<rect x="2414.7" y="56" width="15.7" height="5"/><rect x="2414.7" y="362.7" width="15.7" height="5.3"/>
</g>
</g>
</svg>
